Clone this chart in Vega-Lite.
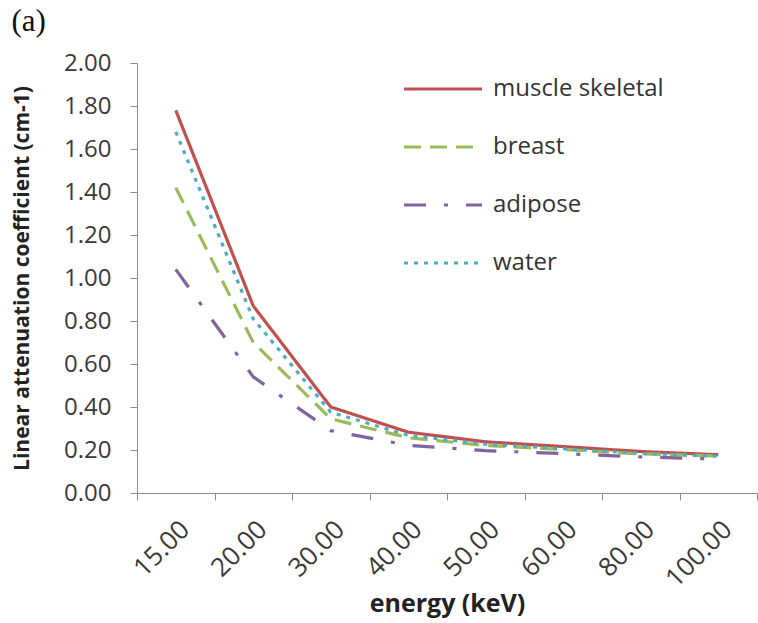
{
  "$schema": "https://vega.github.io/schema/vega-lite/v6.json",
  "width": 620,
  "height": 430,
  "autosize": "none",
  "padding": {"left": 137, "top": 63, "right": 1, "bottom": 130},
  "background": "white",
  "title": {
    "text": "(a)",
    "anchor": "start",
    "frame": "bounds",
    "font": "Liberation Serif",
    "fontSize": 31,
    "fontWeight": "normal",
    "color": "#111111",
    "offset": 13
  },
  "data": {
    "values": [
      {"energy": "15.00", "tissue": "muscle skeletal", "mu": 1.78},
      {"energy": "20.00", "tissue": "muscle skeletal", "mu": 0.87},
      {"energy": "30.00", "tissue": "muscle skeletal", "mu": 0.40},
      {"energy": "40.00", "tissue": "muscle skeletal", "mu": 0.283},
      {"energy": "50.00", "tissue": "muscle skeletal", "mu": 0.238},
      {"energy": "60.00", "tissue": "muscle skeletal", "mu": 0.216},
      {"energy": "80.00", "tissue": "muscle skeletal", "mu": 0.193},
      {"energy": "100.00", "tissue": "muscle skeletal", "mu": 0.178},
      {"energy": "15.00", "tissue": "breast", "mu": 1.42},
      {"energy": "20.00", "tissue": "breast", "mu": 0.70},
      {"energy": "30.00", "tissue": "breast", "mu": 0.345},
      {"energy": "40.00", "tissue": "breast", "mu": 0.257},
      {"energy": "50.00", "tissue": "breast", "mu": 0.221},
      {"energy": "60.00", "tissue": "breast", "mu": 0.202},
      {"energy": "80.00", "tissue": "breast", "mu": 0.182},
      {"energy": "100.00", "tissue": "breast", "mu": 0.172},
      {"energy": "15.00", "tissue": "adipose", "mu": 1.04},
      {"energy": "20.00", "tissue": "adipose", "mu": 0.54},
      {"energy": "30.00", "tissue": "adipose", "mu": 0.29},
      {"energy": "40.00", "tissue": "adipose", "mu": 0.222},
      {"energy": "50.00", "tissue": "adipose", "mu": 0.197},
      {"energy": "60.00", "tissue": "adipose", "mu": 0.183},
      {"energy": "80.00", "tissue": "adipose", "mu": 0.168},
      {"energy": "100.00", "tissue": "adipose", "mu": 0.158},
      {"energy": "15.00", "tissue": "water", "mu": 1.68},
      {"energy": "20.00", "tissue": "water", "mu": 0.81},
      {"energy": "30.00", "tissue": "water", "mu": 0.376},
      {"energy": "40.00", "tissue": "water", "mu": 0.268},
      {"energy": "50.00", "tissue": "water", "mu": 0.227},
      {"energy": "60.00", "tissue": "water", "mu": 0.206},
      {"energy": "80.00", "tissue": "water", "mu": 0.184},
      {"energy": "100.00", "tissue": "water", "mu": 0.171}
    ]
  },
  "mark": {"type": "line", "strokeWidth": 3.2, "strokeCap": "butt", "strokeJoin": "round"},
  "encoding": {
    "x": {
      "field": "energy",
      "type": "ordinal",
      "sort": ["15.00", "20.00", "30.00", "40.00", "50.00", "60.00", "80.00", "100.00"],
      "bandPosition": 0.5,
      "scale": {"type": "band", "paddingInner": 0, "paddingOuter": 0},
      "axis": {
        "title": "energy (keV)",
        "labelAngle": -45,
        "tickBand": "extent",
        "labelFont": "Open Sans",
        "labelFontSize": 26,
        "labelColor": "#3a3a3a",
        "labelPadding": 16,
        "titleFont": "Open Sans",
        "titleFontSize": 25,
        "titleFontWeight": "bold",
        "titleColor": "#222222",
        "titlePadding": 0,
        "domainColor": "#8c8c8c",
        "tickColor": "#8c8c8c",
        "tickSize": 7,
        "grid": false
      }
    },
    "y": {
      "field": "mu",
      "type": "quantitative",
      "scale": {"domain": [0, 2], "nice": false},
      "axis": {
        "title": "Linear attenuation coefficient (cm-1)",
        "values": [0, 0.2, 0.4, 0.6, 0.8, 1.0, 1.2, 1.4, 1.6, 1.8, 2.0],
        "format": ".2f",
        "labelFont": "Open Sans",
        "labelFontSize": 24,
        "labelColor": "#3a3a3a",
        "labelPadding": 19,
        "titleFont": "Open Sans",
        "titleFontSize": 21,
        "titleFontWeight": "bold",
        "titleColor": "#222222",
        "titlePadding": 31,
        "domainColor": "#8c8c8c",
        "tickColor": "#8c8c8c",
        "tickSize": 7,
        "grid": false
      }
    },
    "color": {
      "field": "tissue",
      "type": "nominal",
      "scale": {
        "domain": ["muscle skeletal", "breast", "adipose", "water"],
        "range": ["#c0504d", "#9bbb59", "#8064a2", "#4bacc6"]
      },
      "legend": {
        "title": null,
        "orient": "none",
        "legendX": 265,
        "legendY": 14,
        "symbolType": "stroke",
        "symbolSize": 6084,
        "symbolStrokeWidth": 3.2,
        "clipHeight": 24,
        "rowPadding": 34,
        "labelOffset": 9,
        "labelLimit": 400,
        "labelFont": "Open Sans",
        "labelFontSize": 24,
        "labelColor": "#333333",
        "padding": 0
      }
    },
    "strokeDash": {
      "field": "tissue",
      "type": "nominal",
      "scale": {
        "domain": ["muscle skeletal", "breast", "adipose", "water"],
        "range": [[1, 0], [17, 9], [22, 18, 4, 18], [4, 6]]
      },
      "legend": {
        "title": null,
        "orient": "none",
        "legendX": 265,
        "legendY": 14,
        "symbolType": "stroke",
        "symbolSize": 6084,
        "symbolStrokeWidth": 3.2,
        "clipHeight": 24,
        "rowPadding": 34,
        "labelOffset": 9,
        "labelLimit": 400,
        "labelFont": "Open Sans",
        "labelFontSize": 24,
        "labelColor": "#333333",
        "padding": 0
      }
    }
  },
  "config": {"view": {"stroke": null}}
}
